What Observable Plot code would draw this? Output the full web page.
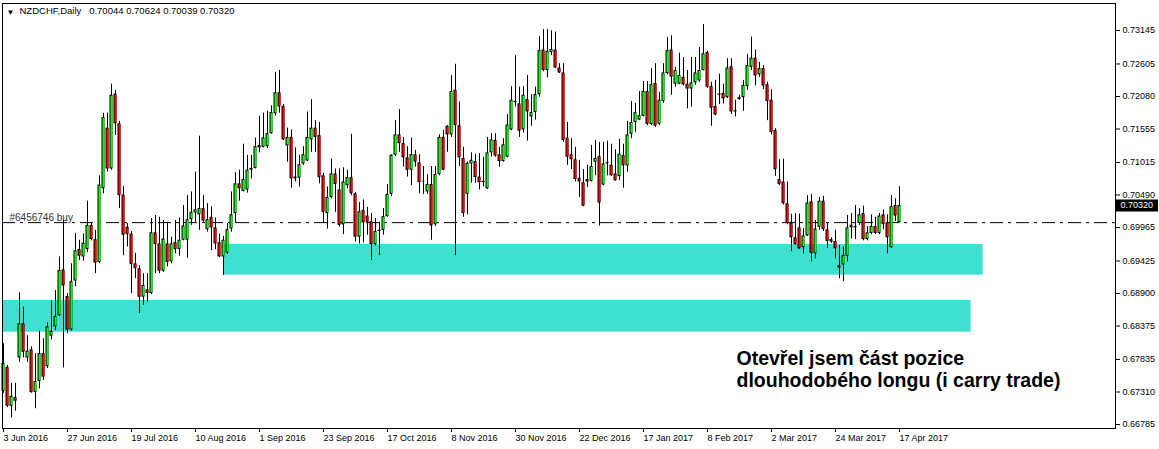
<!DOCTYPE html>
<html>
<head>
<meta charset="utf-8">
<script src="https://cdn.jsdelivr.net/npm/d3@7"></script>
<script src="https://cdn.jsdelivr.net/npm/@observablehq/plot@0.6"></script>
<style>
  body { margin: 0; background: #fff; }
</style>
</head>
<body>
<div id="chart"></div>
<script>
// ---- Daily NZDCHF candles (bar 0 = 3 Jun 2016 ... bar 224 = 17 Apr 2017) ----
const open = [
0.6732,0.6771,0.6708,0.6722,0.6786,0.6841,0.6786,0.6799,0.6730,0.6748,
0.6793,0.6772,0.6821,0.6836,0.6854,0.6928,0.6885,0.6831,0.6910,0.6961,
0.6949,0.6961,0.7000,0.6977,0.6940,0.7059,0.7157,0.7091,0.7212,0.7164,
0.7049,0.6997,0.6986,0.6938,0.6930,0.6884,0.6896,0.6890,0.6988,0.6970,
0.6926,0.6970,0.6941,0.6972,0.6961,0.6976,0.6976,0.7009,0.7020,0.7017,
0.7027,0.6993,0.7013,0.6996,0.6972,0.6949,0.6955,0.6994,0.7019,0.7067,
0.7055,0.7057,0.7089,0.7092,0.7129,0.7126,0.7127,0.7148,0.7180,0.7214,
0.7192,0.7128,0.7142,0.7078,0.7076,0.7099,0.7104,0.7138,0.7157,0.7145,
0.7080,0.7019,0.7045,0.7083,0.7057,0.7001,0.7064,0.7077,0.7051,0.6981,
0.7024,0.7015,0.7006,0.6969,0.6992,0.6992,0.7014,0.7050,0.7113,0.7146,
0.7132,0.7109,0.7089,0.7114,0.7101,0.7071,0.7054,0.7066,0.7001,0.7082,
0.7142,0.7160,0.7146,0.7218,0.7161,0.7108,0.7050,0.7099,0.7103,0.7078,
0.7071,0.7059,0.7117,0.7137,0.7114,0.7103,0.7110,0.7154,0.7200,0.7196,
0.7154,0.7203,0.7175,0.7182,0.7211,0.7283,0.7250,0.7279,0.7283,0.7254,
0.7246,0.7141,0.7114,0.7106,0.7076,0.7069,0.7074,0.7071,0.7102,0.7111,
0.7065,0.7099,0.7097,0.7083,0.7079,0.7113,0.7096,0.7147,0.7166,0.7170,
0.7176,0.7216,0.7163,0.7229,0.7163,0.7200,0.7245,0.7283,0.7228,0.7228,
0.7239,0.7228,0.7220,0.7230,0.7233,0.7250,0.7279,0.7224,0.7192,0.7212,
0.7213,0.7206,0.7256,0.7185,0.7203,0.7206,0.7224,0.7255,0.7270,0.7243,
0.7253,0.7227,0.7202,0.7153,0.7074,0.7070,0.7035,0.7004,0.6980,0.6996,
0.6964,0.6983,0.7038,0.6954,0.6997,0.7039,0.6993,0.6977,0.6974,0.6931,
0.6936,0.6950,0.7000,0.6998,0.7003,0.7019,0.6977,0.6987,0.6998,0.6987,
0.7017,0.7004,0.6964,0.7032,0.70044
];
const high = [
0.6809,0.6774,0.6745,0.6745,0.6891,0.6868,0.6822,0.6804,0.6793,0.6829,
0.6817,0.6843,0.6878,0.6895,0.6949,0.7008,0.6890,0.6938,0.6987,0.6976,
0.6986,0.7039,0.7003,0.6992,0.7080,0.7181,0.7181,0.7228,0.7218,0.7168,
0.7063,0.7003,0.6990,0.6955,0.6935,0.6922,0.6922,0.7011,0.7016,0.7013,
0.7008,0.7005,0.6981,0.7008,0.7012,0.7032,0.7048,0.7054,0.7086,0.7144,
0.7048,0.7035,0.7030,0.7012,0.6986,0.6982,0.7003,0.7054,0.7085,0.7089,
0.7131,0.7113,0.7113,0.7141,0.7176,0.7181,0.7184,0.7193,0.7247,0.7250,
0.7195,0.7157,0.7154,0.7125,0.7113,0.7127,0.7183,0.7203,0.7169,0.7166,
0.7084,0.7062,0.7107,0.7091,0.7091,0.7093,0.7089,0.7147,0.7053,0.7037,
0.7041,0.7029,0.7019,0.7011,0.7005,0.7027,0.7066,0.7114,0.7169,0.7187,
0.7142,0.7127,0.7141,0.7121,0.7114,0.7095,0.7082,0.7095,0.7095,0.7146,
0.7153,0.7161,0.7242,0.7260,0.7199,0.7126,0.7102,0.7117,0.7115,0.7116,
0.7110,0.7142,0.7148,0.7148,0.7126,0.7140,0.7179,0.7224,0.7274,0.7223,
0.7224,0.7242,0.7211,0.7223,0.7305,0.7316,0.7316,0.7314,0.7312,0.7261,
0.7261,0.7166,0.7140,0.7126,0.7105,0.7090,0.7097,0.7129,0.7137,0.7134,
0.7134,0.7136,0.7131,0.7122,0.7139,0.7131,0.7168,0.7200,0.7197,0.7216,
0.7232,0.7232,0.7253,0.7261,0.7215,0.7261,0.7303,0.7306,0.7255,0.7278,
0.7271,0.7250,0.7271,0.7271,0.7287,0.7324,0.7281,0.7231,0.7234,0.7244,
0.7228,0.7269,0.7269,0.7202,0.7210,0.7234,0.7276,0.7304,0.7283,0.7263,
0.7258,0.7231,0.7219,0.7156,0.7106,0.7107,0.7070,0.7018,0.7019,0.7018,
0.6995,0.7048,0.7050,0.7008,0.7045,0.7047,0.7003,0.6980,0.6992,0.6968,
0.6965,0.7016,0.7019,0.7032,0.7027,0.7031,0.6998,0.7017,0.7013,0.7019,
0.7025,0.7017,0.7048,0.7043,0.70624
];
const low = [
0.6729,0.6706,0.6689,0.6700,0.6779,0.6786,0.6779,0.6729,0.6704,0.6736,
0.6750,0.6769,0.6815,0.6830,0.6853,0.6770,0.6825,0.6829,0.6901,0.6943,
0.6942,0.6956,0.6975,0.6922,0.6938,0.7051,0.7086,0.7089,0.7145,0.7027,
0.6951,0.6965,0.6890,0.6914,0.6858,0.6871,0.6876,0.6888,0.6922,0.6922,
0.6924,0.6933,0.6938,0.6954,0.6950,0.6975,0.6947,0.7000,0.7005,0.6992,
0.7005,0.6989,0.6959,0.6961,0.6948,0.6919,0.6953,0.6989,0.7003,0.7039,
0.7054,0.7052,0.7075,0.7091,0.7117,0.7125,0.7124,0.7147,0.7176,0.7181,
0.7137,0.7102,0.7060,0.7070,0.7062,0.7097,0.7103,0.7118,0.7118,0.7067,
0.7003,0.6994,0.7043,0.7021,0.6997,0.6985,0.7059,0.7048,0.6973,0.6970,
0.6972,0.6984,0.6943,0.6967,0.6951,0.6984,0.7013,0.7046,0.7111,0.7118,
0.7094,0.7078,0.7064,0.7094,0.7051,0.7050,0.7050,0.6976,0.6998,0.7080,
0.7088,0.7118,0.7142,0.6951,0.7095,0.7013,0.7017,0.7068,0.7068,0.7057,
0.7062,0.7058,0.7110,0.7110,0.7094,0.7102,0.7109,0.7153,0.7191,0.7142,
0.7149,0.7136,0.7160,0.7170,0.7207,0.7248,0.7238,0.7274,0.7253,0.7245,
0.7134,0.7097,0.7090,0.7070,0.7045,0.7030,0.7061,0.7070,0.7080,0.6999,
0.7064,0.7080,0.7079,0.7071,0.7072,0.7060,0.7086,0.7140,0.7150,0.7169,
0.7175,0.7161,0.7161,0.7158,0.7161,0.7197,0.7243,0.7210,0.7223,0.7227,
0.7225,0.7188,0.7191,0.7226,0.7231,0.7249,0.7221,0.7160,0.7177,0.7195,
0.7196,0.7205,0.7179,0.7175,0.7202,0.7184,0.7218,0.7250,0.7225,0.7239,
0.7219,0.7169,0.7146,0.7079,0.7064,0.7033,0.7001,0.6958,0.6968,0.6961,
0.6954,0.6982,0.6941,0.6946,0.6992,0.6990,0.6963,0.6971,0.6946,0.6914,
0.6909,0.6941,0.6978,0.6977,0.7000,0.6975,0.6975,0.6985,0.6985,0.6985,
0.6993,0.6954,0.6963,0.7006,0.70039
];
const close = [
0.6777,0.6708,0.6724,0.6716,0.6841,0.6795,0.6797,0.6730,0.6748,0.6793,
0.6755,0.6836,0.6829,0.6853,0.6927,0.6902,0.6831,0.6909,0.6959,0.6950,
0.6971,0.7000,0.6977,0.6939,0.7065,0.7174,0.7091,0.7210,0.7164,0.7048,
0.6984,0.6985,0.6937,0.6930,0.6884,0.6903,0.6890,0.6988,0.6969,0.6926,
0.6978,0.6940,0.6970,0.6961,0.6976,0.6999,0.7009,0.7021,0.7025,0.7027,
0.7007,0.7009,0.6996,0.6970,0.6949,0.6976,0.6993,0.7017,0.7067,0.7059,
0.7074,0.7089,0.7092,0.7127,0.7125,0.7141,0.7148,0.7182,0.7214,0.7191,
0.7138,0.7142,0.7075,0.7075,0.7098,0.7114,0.7142,0.7157,0.7142,0.7077,
0.7021,0.7045,0.7083,0.7066,0.7000,0.7070,0.7077,0.7051,0.6981,0.7022,
0.7004,0.7005,0.6969,0.6990,0.6990,0.7014,0.7050,0.7113,0.7146,0.7132,
0.7109,0.7089,0.7114,0.7102,0.7069,0.7070,0.7066,0.6999,0.7082,0.7142,
0.7089,0.7146,0.7216,0.7161,0.7109,0.7019,0.7100,0.7105,0.7077,0.7069,
0.7069,0.7117,0.7138,0.7112,0.7103,0.7130,0.7162,0.7202,0.7198,0.7152,
0.7210,0.7183,0.7182,0.7211,0.7282,0.7250,0.7281,0.7284,0.7254,0.7246,
0.7137,0.7110,0.7106,0.7074,0.7070,0.7031,0.7070,0.7095,0.7108,0.7036,
0.7099,0.7101,0.7080,0.7072,0.7115,0.7096,0.7146,0.7166,0.7182,0.7177,
0.7216,0.7163,0.7227,0.7160,0.7202,0.7246,0.7282,0.7239,0.7250,0.7242,
0.7227,0.7220,0.7230,0.7246,0.7250,0.7277,0.7223,0.7189,0.7178,0.7210,
0.7204,0.7254,0.7183,0.7183,0.7206,0.7226,0.7258,0.7270,0.7241,0.7253,
0.7225,0.7200,0.7150,0.7090,0.7066,0.7035,0.7003,0.6980,0.6969,0.6962,
0.6983,0.7036,0.6955,0.6994,0.7039,0.6993,0.6974,0.6973,0.6962,0.6935,
0.6951,0.6996,0.6996,0.6996,0.7017,0.6977,0.6988,0.6998,0.6987,0.7015,
0.7001,0.6980,0.7030,0.7015,0.70320
];

// ---- axis ticks ----
const dateTicks = [0,16,32,48,64,80,96,112,128,144,160,176,192,208,224];
const dateLabels = ["3 Jun 2016","27 Jun 2016","19 Jul 2016","10 Aug 2016","1 Sep 2016",
  "23 Sep 2016","17 Oct 2016","8 Nov 2016","30 Nov 2016","22 Dec 2016","17 Jan 2017",
  "8 Feb 2017","2 Mar 2017","24 Mar 2017","17 Apr 2017"];
const priceTicks = [0.73145,0.72605,0.72080,0.71555,0.71015,0.70490,0.69965,
  0.69425,0.68900,0.68375,0.67835,0.67310,0.66785];

// ---- annotations ----
const zoneStart  = [-0.25, 55];
const zoneEnd    = [241.9, 244.9];
const zoneTop    = [0.68787, 0.69691];
const zoneBottom = [0.68276, 0.69196];
const orderPrice = 0.70044;
const orderLabel = "#6456746 buy";
const symbolLabel = "NZDCHF,Daily";
const noteLines = ["Otevřel jsem část pozice", "dlouhodobého longu (i carry trade)"];
const noteX = 183.25;
const noteY = [0.67754, 0.67383];

// ---- build tables ----
const bars = open.map((o, i) => ({i, o, h: high[i], l: low[i], c: close[i]}));
const zones = zoneStart.map((s, k) => ({s, e: zoneEnd[k], t: zoneTop[k], b: zoneBottom[k]}));
const notes = noteLines.map((t, k) => ({t, x: noteX, y: noteY[k]}));
const last = bars[bars.length - 1];
const titleText = symbolLabel + "\u00a0\u00a0 " + [last.o, last.h, last.l, last.c].map(v => v.toFixed(5)).join(" ");

const UP = "#00ff00", DOWN = "#ff0000";
const FONT = "'Liberation Sans', Arial, sans-serif";
const X_DOMAIN = [-0.25, 278];

const chart = Plot.plot({
  width: 1159,
  height: 449,
  marginLeft: 2,
  marginRight: 44,
  marginTop: 3,
  marginBottom: 21,
  x: {domain: X_DOMAIN, axis: null},
  y: {domain: [0.66721, 0.73581], axis: null},
  style: {fontFamily: FONT, fontSize: "9px", background: "#fff", color: "#000", overflow: "visible"},
  marks: [
    Plot.rect(zones, {x1: "s", x2: "e", y1: "b", y2: "t", fill: "#40E0D0"}),
    Plot.ruleY([orderPrice], {stroke: "#000", strokeWidth: 1, strokeDasharray: "13,5,3,5"}),
    Plot.text([orderLabel], {text: d => d, y: () => orderPrice, frameAnchor: "left",
      dx: 7, dy: -2, lineAnchor: "bottom", textAnchor: "start", fontSize: 10, fill: "#333"}),
    Plot.ruleX(bars, {x: "i", y1: "l", y2: "h", stroke: "#000", strokeWidth: 1}),
    Plot.rect(bars, {x1: d => d.i - 0.375, x2: d => d.i + 0.375, y1: "o", y2: "c", fill: "#000"}),
    Plot.rect(bars, {x1: d => d.i - 0.375, x2: d => d.i + 0.375, y1: "o", y2: "c",
      fill: d => d.c >= d.o ? UP : DOWN, insetLeft: 1, insetRight: 0, insetTop: 1, insetBottom: 1}),
    Plot.frame({stroke: "#000"}),
    Plot.axisX(dateTicks, {anchor: "bottom", tickSize: 4, tickPadding: 2, textAnchor: "start",
      tickFormat: d => dateLabels[dateTicks.indexOf(d)], fontSize: 9, label: null}),
    Plot.axisY(priceTicks, {anchor: "right", tickSize: 4, tickPadding: 3,
      tickFormat: d => d.toFixed(5), fontSize: 9, label: null}),
    // current-price tag on the price axis
    Plot.ruleY([last.c], {x1: X_DOMAIN[1] + 0.25, x2: X_DOMAIN[1] + 10.75, stroke: "#000", strokeWidth: 12}),
    Plot.text([last.c], {y: d => d, text: d => d.toFixed(5), frameAnchor: "right", dx: 5,
      textAnchor: "start", fontSize: 9, fill: "#fff"}),
    Plot.text(["\u25BC"], {text: d => d, frameAnchor: "top-left", dx: 4, dy: 6, lineAnchor: "top",
      textAnchor: "start", fontSize: 8, fill: "#000"}),
    Plot.text([titleText], {text: d => d, frameAnchor: "top-left", dx: 17, dy: 4, lineAnchor: "top",
      textAnchor: "start", fontSize: 9.5, fill: "#000"}),
    Plot.text(notes, {x: "x", y: "y", text: "t", lineAnchor: "bottom", textAnchor: "start",
      fontSize: 19.5, fontWeight: "bold", fill: "#000"})
  ]
});
document.getElementById("chart").appendChild(chart);
</script>
</body>
</html>
